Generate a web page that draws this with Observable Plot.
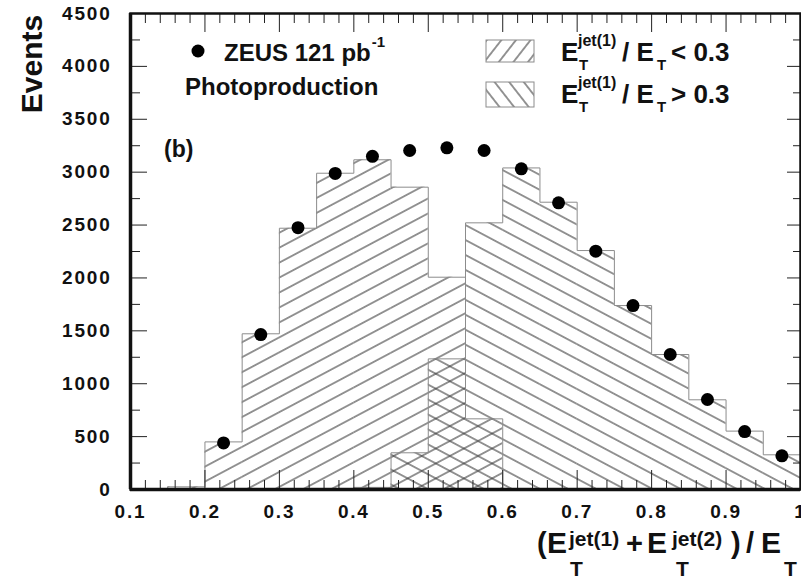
<!DOCTYPE html>
<html>
<head>
<meta charset="utf-8">
<script src="https://cdn.jsdelivr.net/npm/d3@7"></script>
<script src="https://cdn.jsdelivr.net/npm/@observablehq/plot@0.6"></script>
<style>
  html, body { margin: 0; padding: 0; background: #fff; }
  #chart svg { display: block; }
</style>
</head>
<body>
<div id="chart"></div>
<script>
// Histogram bins: lower edges, common width 0.05
const binWidth = 0.05;

// MC sample with E_T^jet(1)/E_T < 0.3  (hatched "/")
const lowBinsLo = [0.15, 0.20, 0.25, 0.30, 0.35, 0.40, 0.45, 0.50, 0.55];
const lowCounts = [25, 450, 1472, 2470, 2990, 3117, 2858, 2007, 668];

// MC sample with E_T^jet(1)/E_T > 0.3  (hatched "\")
const highBinsLo = [0.40, 0.45, 0.50, 0.55, 0.60, 0.65, 0.70, 0.75, 0.80, 0.85, 0.90, 0.95];
const highCounts = [20, 347, 1235, 2521, 3040, 2716, 2259, 1739, 1276, 848, 552, 328];

// ZEUS data at bin centres
const dataX = [0.225, 0.275, 0.325, 0.375, 0.425, 0.475, 0.525, 0.575,
               0.625, 0.675, 0.725, 0.775, 0.825, 0.875, 0.925, 0.975];
const dataY = [440, 1465, 2475, 2988, 3150, 3205, 3230, 3205,
               3032, 2710, 2253, 1739, 1276, 851, 548, 318];

// Axis ticks and their labels
const xTicks = [0.1, 0.2, 0.3, 0.4, 0.5, 0.6, 0.7, 0.8, 0.9, 1.0];
const xTickLabels = ["0.1", "0.2", "0.3", "0.4", "0.5", "0.6", "0.7", "0.8", "0.9", "1"];
const yTicks = [0, 500, 1000, 1500, 2000, 2500, 3000, 3500, 4000, 4500];
const yTickLabels = ["0", "500", "1000", "1500", "2000", "2500", "3000", "3500", "4000", "4500"];

// Minor ticks: every 0.02 in x, every 250 in y
const xMinor = d3.range(10, 101, 2).map(v => v / 100).filter(v => Math.round(v * 100) % 10 !== 0);
const yMinor = d3.range(250, 4500, 500);

// Tables for the library
const lowBins = lowBinsLo.map((x1, i) => ({x1, x2: x1 + binWidth, n: lowCounts[i]}));
const highBins = highBinsLo.map((x1, i) => ({x1, x2: x1 + binWidth, n: highCounts[i]}));
const points = dataX.map((x, i) => ({x, y: dataY[i]}));

function stepOutline(lo, counts) {
  const pts = [{x: lo[0], y: 0}];
  lo.forEach((x, i) => pts.push({x, y: counts[i]}));
  const end = lo[lo.length - 1] + binWidth;
  pts.push({x: end, y: counts[counts.length - 1]}, {x: end, y: 0});
  return pts;
}

const xLab = new Map(xTicks.map((t, i) => [t, xTickLabels[i]]));
const yLab = new Map(yTicks.map((t, i) => [t, yTickLabels[i]]));

const W = 801, H = 579;
const mL = 130, mR = 1, mT = 13, mB = 90;
const frameW = W - mL - mR, frameH = H - mT - mB;

const font = "Liberation Sans, Arial, Helvetica, sans-serif";
const hatchInk = "#3f3f3f";
const outlineInk = "#8c8c8c";

const plot = Plot.plot({
  width: W,
  height: H,
  marginLeft: mL,
  marginRight: mR,
  marginTop: mT,
  marginBottom: mB,
  x: {domain: [0.1, 1.0]},
  y: {domain: [0, 4500]},
  style: {background: "white", fontFamily: font, fontWeight: "bold", fontSize: "19px", overflow: "visible"},
  marks: [
    // hatched histograms (overlaid, so the overlap shows cross-hatching)
    Plot.rect(lowBins, {x1: "x1", x2: "x2", y1: 0, y2: "n", fill: "url(#hatch-lo)"}),
    Plot.rect(highBins, {x1: "x1", x2: "x2", y1: 0, y2: "n", fill: "url(#hatch-hi)"}),
    Plot.line(stepOutline(lowBinsLo, lowCounts), {x: "x", y: "y", curve: "step-after", stroke: outlineInk, strokeWidth: 1}),
    Plot.line(stepOutline(highBinsLo, highCounts), {x: "x", y: "y", curve: "step-after", stroke: outlineInk, strokeWidth: 1}),

    // inward ticks: bottom and top
    Plot.ruleX(xTicks, {insetTop: frameH - 19, stroke: "#222", strokeWidth: 1}),
    Plot.ruleX(xMinor, {insetTop: frameH - 9, stroke: "#222", strokeWidth: 1}),
    Plot.ruleX(xTicks, {insetBottom: frameH - 19, stroke: "#222", strokeWidth: 1}),
    Plot.ruleX(xMinor, {insetBottom: frameH - 10, stroke: "#222", strokeWidth: 1}),
    // inward ticks: left and right
    Plot.ruleY(yTicks, {insetRight: frameW - 17, stroke: "#222", strokeWidth: 1}),
    Plot.ruleY(yMinor, {insetRight: frameW - 10, stroke: "#222", strokeWidth: 1}),
    Plot.ruleY(yTicks, {insetLeft: frameW - 13, stroke: "#222", strokeWidth: 1}),
    Plot.ruleY(yMinor, {insetLeft: frameW - 7, stroke: "#222", strokeWidth: 1}),

    // frame, with heavier axis lines
    Plot.frame({stroke: "#111", strokeWidth: 2.5}),
    Plot.ruleY([0], {stroke: "#111", strokeWidth: 3.5}),
    Plot.ruleX([0.1], {stroke: "#111", strokeWidth: 3.5}),

    // data
    Plot.dot(points, {x: "x", y: "y", r: 6.5, fill: "#000", stroke: "none"}),

    // tick labels
    Plot.axisX(xTicks, {anchor: "bottom", tickSize: 0, tickPadding: 15, tickFormat: d => xLab.get(d), label: null,
      fontSize: 19, fontWeight: "bold", fill: "#111"}),
    Plot.axisY(yTicks, {anchor: "left", tickSize: 0, tickPadding: 19, tickFormat: d => yLab.get(d), label: null,
      fontSize: 19, fontWeight: "bold", fill: "#111"})
  ]
});

document.getElementById("chart").appendChild(plot);

const svg = d3.select(plot);
svg.selectAll("g[aria-label='x-axis tick label'] text, g[aria-label='y-axis tick label'] text")
  .style("letter-spacing", "1.8px");

// Hatch patterns
const defs = svg.insert("defs", ":first-child");
function hatch(id, angle, gap) {
  const p = defs.append("pattern")
    .attr("id", id)
    .attr("patternUnits", "userSpaceOnUse")
    .attr("width", 12)
    .attr("height", gap)
    .attr("patternTransform", `rotate(${angle})`);
  p.append("line")
    .attr("x1", 0).attr("x2", 12)
    .attr("y1", gap / 2).attr("y2", gap / 2)
    .attr("stroke", hatchInk)
    .attr("stroke-width", 1.1);
}
hatch("hatch-lo", -28, 13.2);
hatch("hatch-hi", 28, 13.2);
hatch("key-lo", -52, 11.5);
hatch("key-hi", 52, 11.5);

// Text helper
const notes = svg.append("g").attr("font-family", font).attr("font-weight", "bold").attr("fill", "#111");
function txt(x, y, s, size, anchor = "start") {
  return notes.append("text").attr("x", x).attr("y", y).attr("font-size", size).attr("text-anchor", anchor).text(s);
}

// y-axis title
notes.append("text")
  .attr("transform", "translate(42,64) rotate(-90)")
  .attr("text-anchor", "middle")
  .attr("font-size", 30)
  .text("Events");

// data legend
notes.append("circle").attr("cx", 198).attr("cy", 51).attr("r", 6.5).attr("fill", "#000");
const zeus = txt(224, 61, "ZEUS 121 pb", 24);
zeus.append("tspan").attr("dy", -14).attr("dx", 1).attr("font-size", 15).text("-1");
txt(185, 95, "Photoproduction", 24);
txt(164, 157, "(b)", 23);

// hatch legend
const keys = [
  {y0: 40, h: 22, base: 61, pat: "key-lo", rel: "< 0.3"},
  {y0: 82, h: 25, base: 103, pat: "key-hi", rel: "> 0.3"}
];
keys.forEach(k => {
  notes.append("rect").attr("x", 486).attr("y", k.y0).attr("width", 48).attr("height", k.h)
    .attr("fill", `url(#${k.pat})`).attr("stroke", outlineInk).attr("stroke-width", 1);
  txt(561, k.base, "E", 26);
  txt(578, k.base - 15, "jet(1)", 16);
  txt(579, k.base + 9, "T", 15);
  txt(622, k.base, "/ E", 26);
  txt(657, k.base + 9, "T", 15);
  txt(671, k.base, k.rel, 26);
});

// x-axis title
txt(537, 553, "(", 29);
txt(547, 553, "E", 30);
txt(569, 546, "jet(1)", 21);
txt(570, 576, "T", 21);
txt(626, 553, "+", 29);
txt(647, 553, "E", 30);
txt(672, 546, "jet(2)", 21);
txt(676, 576, "T", 21);
txt(731, 553, ")", 29);
txt(746, 553, "/", 29);
txt(761, 553, "E", 30);
txt(784, 576, "T", 21);
</script>
</body>
</html>
